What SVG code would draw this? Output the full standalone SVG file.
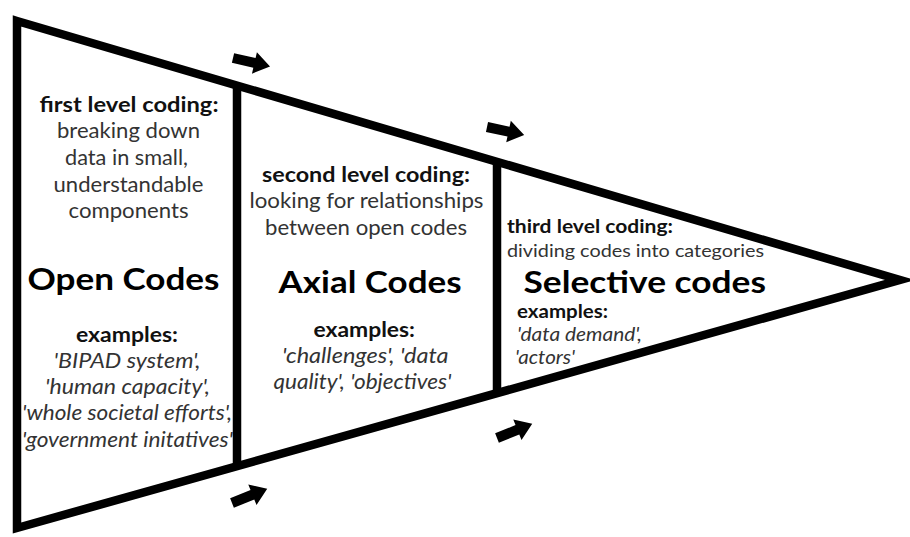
<svg xmlns="http://www.w3.org/2000/svg" width="910" height="537" viewBox="0 0 910 537">
<style>
text{font-family:Lato,"Open Sans","DejaVu Sans",sans-serif;text-anchor:start}
.h{font-weight:bold;fill:#111;font-size:20.5px}
.b{font-weight:bold;fill:#000;font-size:30.5px}
.r{fill:#333;font-size:20.5px}
.i{fill:#333;font-size:20.5px;font-style:italic}
.s{font-size:18px}
.si{font-size:18.5px}
.ln{stroke:#000;stroke-width:8.5;fill:none;stroke-linejoin:miter}
</style>
<defs>
<path id="arr" d="M0,-5 L22,-5 L22,-11 L38,0 L22,11 L22,5 L0,5 Z" fill="#000"/>
</defs>
<rect width="910" height="537" fill="#fff"/>
<g id="funnel">
<polygon class="ln" points="17,21 900,280 17,528"/>
</g>
<g id="open-codes">
<line class="ln" x1="237" y1="85" x2="237" y2="467"/>
<text class="h" x="39.5" y="112" textLength="179" lengthAdjust="spacingAndGlyphs">first level coding:</text>
<text class="r" x="57" y="138" textLength="143" lengthAdjust="spacingAndGlyphs">breaking down</text>
<text class="r" x="65" y="165" textLength="123" lengthAdjust="spacingAndGlyphs">data in small,</text>
<text class="r" x="53.5" y="191.5" textLength="150" lengthAdjust="spacingAndGlyphs">understandable</text>
<text class="r" x="68.5" y="218" textLength="120" lengthAdjust="spacingAndGlyphs">components</text>
<text class="b" x="27.5" y="289.5" textLength="192" lengthAdjust="spacingAndGlyphs">Open Codes</text>
<text class="h" x="76" y="341.5" textLength="102" lengthAdjust="spacingAndGlyphs">examples:</text>
<text class="i" x="53.5" y="367.5" textLength="147" lengthAdjust="spacingAndGlyphs">'BIPAD system',</text>
<text class="i" x="45" y="394" textLength="165" lengthAdjust="spacingAndGlyphs">'human capacity',</text>
<text class="i" x="22" y="420" textLength="210" lengthAdjust="spacingAndGlyphs">'whole societal efforts',</text>
<text class="i" x="22" y="446.5" textLength="211" lengthAdjust="spacingAndGlyphs">'government initatives'</text>
</g>
<g id="axial-codes">
<line class="ln" x1="497" y1="162" x2="497" y2="393"/>
<text class="h" x="262" y="182" textLength="208" lengthAdjust="spacingAndGlyphs">second level coding:</text>
<text class="r" x="249.5" y="208" textLength="234" lengthAdjust="spacingAndGlyphs">looking for relationships</text>
<text class="r" x="265" y="235" textLength="202" lengthAdjust="spacingAndGlyphs">between open codes</text>
<text class="b" x="278.5" y="293" textLength="183" lengthAdjust="spacingAndGlyphs">Axial Codes</text>
<text class="h" x="313.5" y="337" textLength="101.5" lengthAdjust="spacingAndGlyphs">examples:</text>
<text class="i" x="282" y="363.3" textLength="166.5" lengthAdjust="spacingAndGlyphs">'challenges', 'data</text>
<text class="i" x="273.5" y="389.3" textLength="178" lengthAdjust="spacingAndGlyphs">quality', 'objectives'</text>
</g>
<g id="selective-codes">
<text class="h s" x="507" y="233" textLength="166" lengthAdjust="spacingAndGlyphs">third level coding:</text>
<text class="r s" x="507" y="256.5" textLength="257" lengthAdjust="spacingAndGlyphs">dividing codes into categories</text>
<text class="b" x="523.5" y="293" textLength="242.5" lengthAdjust="spacingAndGlyphs" style="font-size:30px">Selective codes</text>
<text class="h s" x="517" y="317.5" textLength="91" lengthAdjust="spacingAndGlyphs">examples:</text>
<text class="i si" x="517" y="340.8" textLength="125" lengthAdjust="spacingAndGlyphs">'data demand',</text>
<text class="i si" x="515" y="363.5" textLength="60" lengthAdjust="spacingAndGlyphs">'actors'</text>
</g>
<g id="connectors">
<use href="#arr" transform="translate(233,58) rotate(13)"/>
<use href="#arr" transform="translate(487,127) rotate(12)"/>
<use href="#arr" transform="translate(232,503) rotate(-22)"/>
<use href="#arr" transform="translate(497,438) rotate(-22)"/>
</g>
</svg>
